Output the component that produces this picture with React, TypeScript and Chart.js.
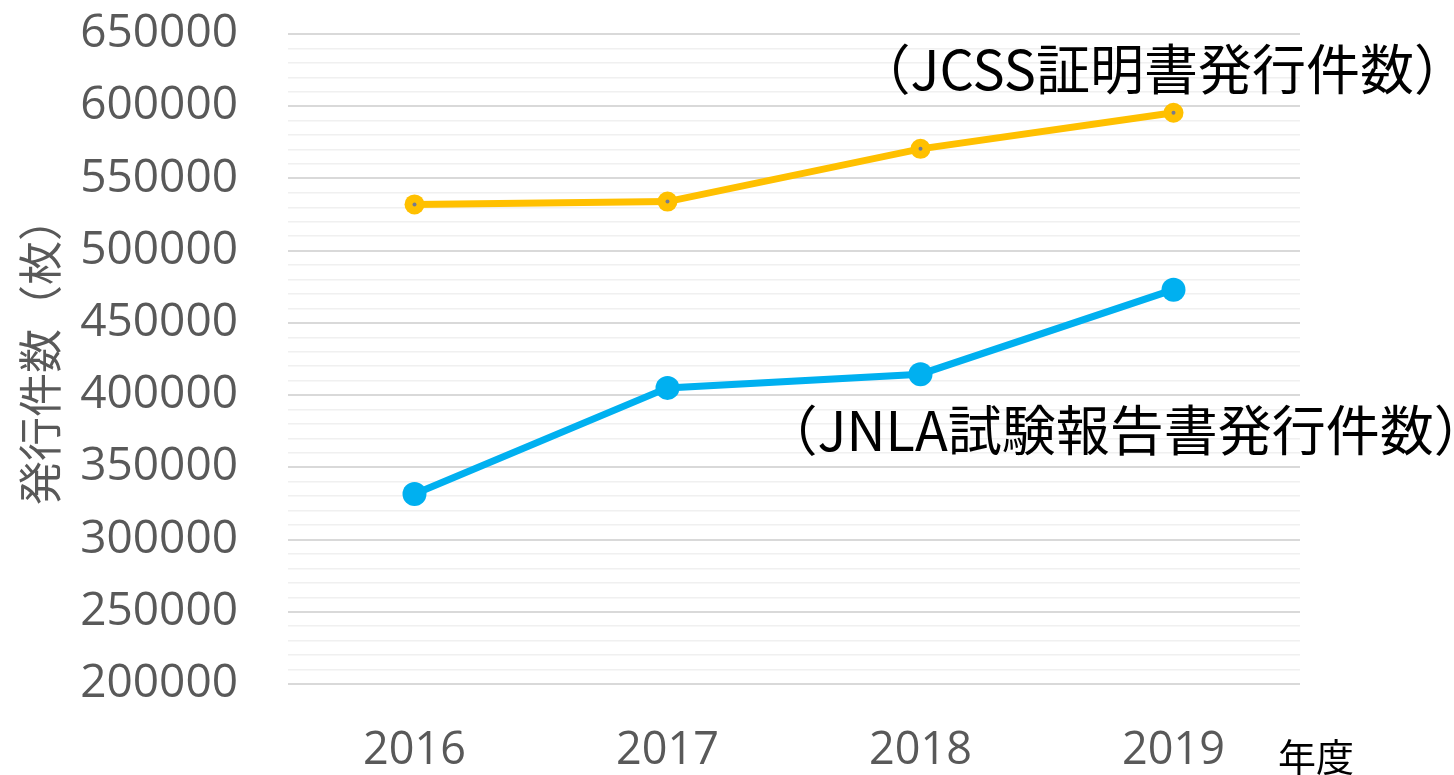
import React, { useEffect, useRef } from "react";
import { Chart, registerables } from "chart.js";

Chart.register(...registerables);

const years = ["2016", "2017", "2018", "2019"];
const jcssValues = [532000, 534000, 570500, 595500];
const jnlaValues = [331500, 405000, 414500, 473000];
const jcssLabel = "（JCSS証明書発行件数）";
const jnlaLabel = "（JNLA試験報告書発行件数）";
const yTitle = "発行件数（枚）";
const xTitle = "年度";
const yMin = 200000;
const yMax = 650000;

const JP = '"Noto Sans CJK JP", "Noto Sans", sans-serif';
const NUM = '"Open Sans", "Noto Sans", sans-serif';

const annotationPlugin = {
  id: "annotations",
  afterDatasetsDraw(chart: any) {
    const ctx = chart.ctx;
    const meta = chart.getDatasetMeta(0);
    ctx.save();
    ctx.fillStyle = "#767b8f";
    meta.data.forEach((pt: any) => {
      ctx.beginPath();
      ctx.arc(pt.x, pt.y, 2, 0, Math.PI * 2);
      ctx.fill();
    });
    ctx.restore();
  },
  afterDraw(chart: any) {
    const ctx = chart.ctx;
    const xs = chart.scales.x;
    const ys = chart.scales.y;
    const area = chart.chartArea;
    ctx.save();
    ctx.fillStyle = "#000000";
    ctx.textAlign = "left";
    ctx.textBaseline = "middle";
    ctx.font = `54px ${JP}`;
    ctx.fillText(jcssLabel, xs.getPixelForValue(3) - 317, ys.getPixelForValue(jcssValues[3]) - 43);
    ctx.fillText(jnlaLabel, xs.getPixelForValue(2) - 157, ys.getPixelForValue(jnlaValues[2]) + 56);

    ctx.font = `38px ${JP}`;
    ctx.fillText(xTitle, area.right - 22, chart.height - 18);

    ctx.fillStyle = "#595959";
    ctx.font = `44px ${JP}`;
    ctx.translate(40, (area.top + area.bottom) / 2 - 8);
    ctx.rotate(-Math.PI / 2);
    ctx.textAlign = "center";
    ctx.fillText(yTitle, 0, 0);
    ctx.restore();
  },
};

export default function App() {
  const ref = useRef<HTMLCanvasElement | null>(null);
  useEffect(() => {
    if (!ref.current) return;
    const chart = new Chart(ref.current, {
      type: "line",
      data: {
        labels: years,
        datasets: [
          {
            label: "JCSS",
            data: jcssValues,
            borderColor: "#FFC000",
            backgroundColor: "#FFC000",
            borderWidth: 7,
            pointRadius: 10,
            pointBorderWidth: 0,
            pointBackgroundColor: "#FFC000",
            tension: 0,
          },
          {
            label: "JNLA",
            data: jnlaValues,
            borderColor: "#00B0F0",
            backgroundColor: "#00B0F0",
            borderWidth: 7,
            pointRadius: 12,
            pointBorderWidth: 0,
            pointBackgroundColor: "#00B0F0",
            tension: 0,
          },
        ],
      },
      options: {
        animation: false,
        responsive: true,
        maintainAspectRatio: false,
        layout: { padding: { top: 34, right: 154, left: 0, bottom: 0 } },
        plugins: { legend: { display: false }, tooltip: { enabled: false } },
        scales: {
          x: {
            offset: true,
            grid: { display: false, drawTicks: false },
            border: { display: false },
            ticks: { color: "#595959", font: { family: NUM, size: 45 }, padding: 40 },
            afterFit(scale: any) {
              scale.height = 91;
              scale.paddingLeft = 0;
              scale.paddingRight = 0;
            },
          },
          y: {
            min: yMin,
            max: yMax,
            border: { display: false },
            grid: {
              drawTicks: false,
              color: (c: any) => (c.tick && c.tick.value % 50000 === 0 ? "#d9d9d9" : "#f0f0f0"),
              lineWidth: (c: any) => (c.tick && c.tick.value % 50000 === 0 ? 2 : 1.5),
            },
            ticks: {
              stepSize: 10000,
              maxTicksLimit: 1000,
              autoSkip: false,
              color: "#595959",
              font: { family: NUM, size: 46 },
              padding: 50,
              callback: (v: any) => (Number(v) % 50000 === 0 ? String(v) : ""),
            },
            afterFit(scale: any) {
              scale.width = 288;
              scale.paddingTop = 0;
              scale.paddingBottom = 0;
            },
          },
        },
      },
      plugins: [annotationPlugin],
    } as any);
    return () => chart.destroy();
  }, []);
  return (
    <div style={{ position: "fixed", left: 0, top: 0, width: 1454, height: 775, background: "#fff" }}>
      <canvas ref={ref} />
    </div>
  );
}
